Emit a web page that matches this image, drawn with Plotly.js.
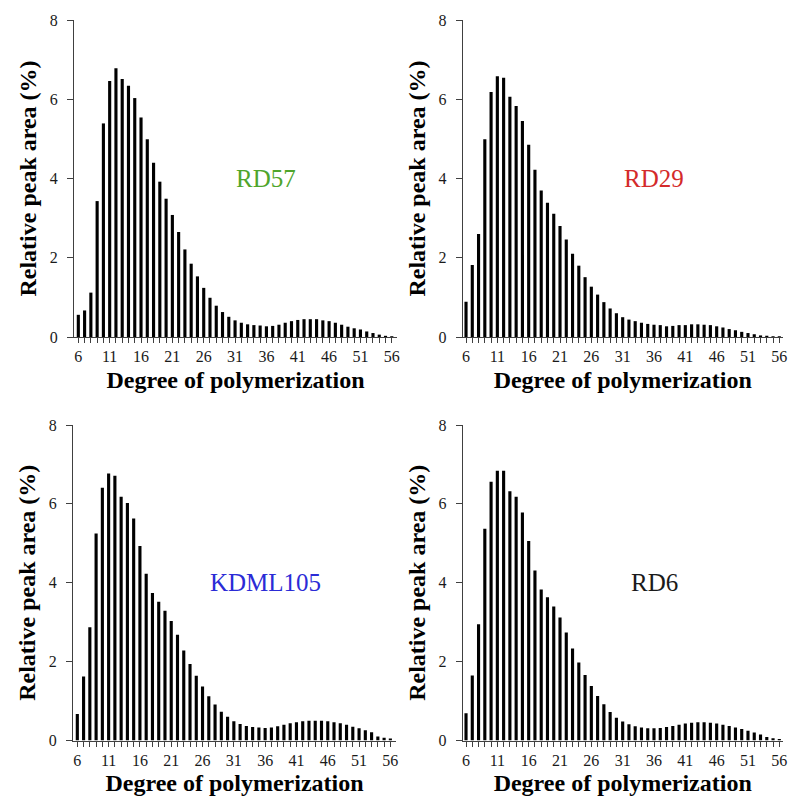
<!DOCTYPE html>
<html>
<head>
<meta charset="utf-8">
<script src="https://cdn.plot.ly/plotly-3.0.1.min.js"></script>
<style>html,body{margin:0;padding:0;background:#fff;}#chart{width:788px;height:796px;}</style>
</head>
<body>
<div id="chart"></div>
<script>
// Degree of polymerization 6..56
const dp = [6,7,8,9,10,11,12,13,14,15,16,17,18,19,20,21,22,23,24,25,26,27,28,29,30,31,32,33,34,35,36,37,38,39,40,41,42,43,44,45,46,47,48,49,50,51,52,53,54,55,56];
const xTickVals = [6,11,16,21,26,31,36,41,46,51,56];
const yTickVals = [0,2,4,6,8];

const rd57 = [0.56,0.67,1.12,3.43,5.39,6.46,6.78,6.51,6.34,6.03,
  5.54,4.99,4.40,3.92,3.49,3.08,2.65,2.21,1.85,1.53,
  1.24,0.99,0.79,0.63,0.51,0.42,0.36,0.32,0.30,0.29,
  0.27,0.28,0.31,0.36,0.40,0.43,0.45,0.45,0.45,0.42,
  0.40,0.36,0.31,0.26,0.22,0.19,0.14,0.10,0.06,0.03,0.02];
const rd29 = [0.89,1.82,2.60,4.99,6.18,6.58,6.54,6.06,5.83,5.45,
  4.85,4.22,3.70,3.39,3.11,2.80,2.46,2.10,1.80,1.51,
  1.27,1.07,0.88,0.72,0.60,0.50,0.44,0.40,0.36,0.33,
  0.31,0.30,0.27,0.28,0.30,0.30,0.32,0.32,0.31,0.30,
  0.27,0.24,0.20,0.17,0.13,0.10,0.07,0.04,0.03,0.02,0.02];
const kdml105 = [0.67,1.62,2.87,5.25,6.41,6.77,6.71,6.18,6.02,5.63,
  4.93,4.23,3.74,3.52,3.29,3.03,2.68,2.28,1.94,1.64,
  1.37,1.12,0.91,0.73,0.60,0.49,0.42,0.37,0.34,0.33,
  0.32,0.33,0.36,0.40,0.44,0.46,0.49,0.50,0.50,0.50,
  0.49,0.46,0.44,0.40,0.35,0.31,0.26,0.21,0.10,0.07,0.05];
const rd6 = [0.69,1.65,2.95,5.37,6.56,6.84,6.84,6.32,6.18,5.78,
  5.06,4.31,3.83,3.63,3.40,3.12,2.74,2.33,1.98,1.66,
  1.38,1.13,0.92,0.72,0.58,0.48,0.41,0.36,0.33,0.31,
  0.31,0.32,0.34,0.37,0.40,0.43,0.45,0.46,0.46,0.45,
  0.43,0.40,0.37,0.33,0.29,0.25,0.20,0.15,0.09,0.06,0.04];

const panelNames = ['RD57','RD29','KDML105','RD6'];
const panelColors = ['#4fa52b','#d42a2a','#2b2bd6','#1a1a1a'];
const panelData = [rd57, rd29, kdml105, rd6];

const W = 788, H = 796;
const serif = 'Liberation Serif, Times New Roman, serif';
const axisColor = '#404040';

// pixel boxes [left, right, top, bottom]
const boxes = [
  [74, 397, 20, 337],
  [462.7, 782.7, 20, 337],
  [73, 396, 425, 740.5],
  [462.7, 782.7, 425, 740.5]
];
const xRanges = [[5.31,56.83],[5.47,56.54],[5.31,56.9],[5.47,56.54]];

const traces = [];
const layout = {
  width: W, height: H,
  margin: {l:0, r:0, t:0, b:0},
  paper_bgcolor: '#fff', plot_bgcolor: '#fff',
  showlegend: false,
  font: {family: serif, color: '#1a1a1a'},
  annotations: []
};

panelData.forEach((vals, i) => {
  const n = i + 1;
  const xa = 'xaxis' + (n === 1 ? '' : n);
  const ya = 'yaxis' + (n === 1 ? '' : n);
  const b = boxes[i];
  traces.push({
    type: 'bar', x: dp, y: vals,
    xaxis: 'x' + (n === 1 ? '' : n), yaxis: 'y' + (n === 1 ? '' : n),
    width: 0.5, marker: {color: '#000', line: {width: 0}},
    hoverinfo: 'x+y'
  });
  layout[xa] = {
    domain: [b[0]/W, b[1]/W], anchor: 'y' + (n === 1 ? '' : n),
    range: xRanges[i], tickmode: 'array', tickvals: xTickVals,
    ticks: 'outside', ticklen: 5, tickwidth: 1, tickcolor: axisColor,
    minor: {dtick: 1, tick0: 6, ticks: 'outside', ticklen: 5, tickwidth: 1, tickcolor: axisColor, showgrid: false},
    showline: true, linecolor: axisColor, linewidth: 1,
    showgrid: false, zeroline: false,
    tickfont: {family: serif, size: 16, color: '#1a1a1a'},
    title: {text: 'Degree of polymerization', font: {family: serif, size: 24, color: '#000', weight: 'bold'}, standoff: 6},
    automargin: false, fixedrange: true
  };
  layout[ya] = {
    domain: [1 - b[3]/H, 1 - b[2]/H], anchor: 'x' + (n === 1 ? '' : n),
    range: [0, 8], tickmode: 'array', tickvals: yTickVals,
    ticks: 'outside', ticklen: 6, tickwidth: 1, tickcolor: axisColor,
    ticklabelstandoff: 6,
    showline: true, linecolor: axisColor, linewidth: 1,
    showgrid: false, zeroline: false,
    tickfont: {family: serif, size: 16, color: '#1a1a1a'},
    title: {text: 'Relative peak area (%)', font: {family: serif, size: 24, color: '#000', weight: 'bold'}, standoff: 6},
    automargin: false, fixedrange: true
  };
  layout.annotations.push({
    xref: 'x' + (n === 1 ? '' : n), yref: 'y' + (n === 1 ? '' : n),
    x: 36, y: 4, text: panelNames[i], showarrow: false,
    font: {family: serif, size: 25, color: panelColors[i]}
  });
});

Plotly.newPlot('chart', traces, layout, {displayModeBar: false, staticPlot: true});
</script>
</body>
</html>
